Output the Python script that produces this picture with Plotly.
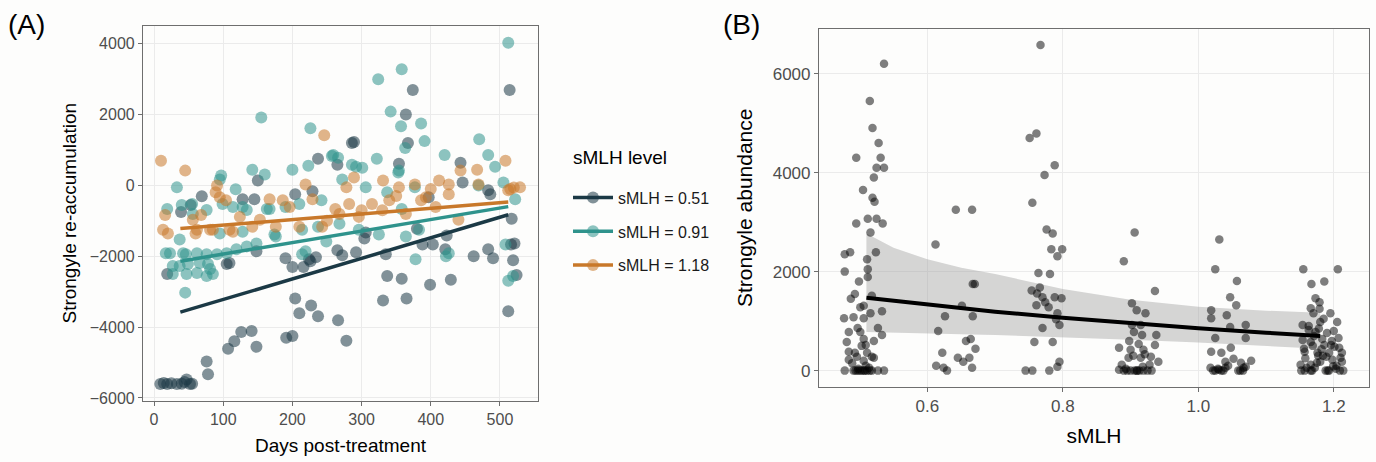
import plotly.graph_objects as go

# ---------------- Panel A data ----------------
days_051 = [9, 14, 19, 25, 33, 40, 44, 47, 52, 55, 76, 78, 107, 116, 126, 141, 148,
            191, 200, 204, 210, 227, 237, 266, 278,
            190, 200, 216, 226, 234, 265, 272, 292, 304, 306, 335, 337, 331, 358, 365, 399, 429,
            462, 423, 421, 483, 490, 519, 524, 512, 521, 516, 403, 388, 380,
            374, 514, 364, 367, 289, 237, 265, 354, 446, 483, 517, 397, 229,
            69, 150, 145, 128, 39, 53, 224, 19, 105, 109, 148, 286, 443, 486, 204]
reacc_051 = [-5611, -5580, -5611, -5590, -5611, -5600, -5550, -5480, -5611, -5600, -4972, -5333,
             -4611, -4400, -4139, -4111, -4556,
             -4305, -4250, -3195, -3611, -3390, -3695, -3806, -4389,
             -2056, -2306, -2306, -2139, -2028, -1833, -1972, -1889, -1500, -1333, -1944, -2556,
             -3250, -2639, -3195, -2806, -2667,
             -2000, -1417, -1806, -1806, -2056, -2111, -2528, -3556, -1639, -1667, -1667, -1667, -1222,
             2694, 2694, 2000, 1194, 1222, 750, 583, 611, 83, -139, -944, -333, -167,
             -306, 139, -389, -389, -750, -556, -2083, -2500, -2222, -2194, -1861, 1194, 639, -250, -250]

days_091 = [512, 358, 324, 342, 357, 386, 391, 363, 226, 155, 322, 470, 483, 420, 493, 353, 292,
            301, 200, 223, 259, 266, 33, 142, 160, 95, 19, 40, 55, 76, 114, 134, 163,
            37, 23, 42, 62, 76, 91, 105, 119, 134, 148, 27, 37, 49, 66, 78, 47, 62, 76, 27,
            45, 85, 81, 174, 214, 249, 325, 364, 378, 422, 508, 512, 519, 286, 354, 505, 522,
            272, 306, 337, 377, 469, 358, 296, 426, 268, 383, 97, 118, 128, 167, 190, 210,
            242, 56, 99, 95, 128, 176, 214, 237, 17, 46, 219, 257]
reacc_091 = [4028, 3278, 3000, 2083, 1667, 1750, 1250, 1056, 1611, 1917, 750, 1306, 861, 861, 528,
             361, 528, 500, 444, 556, 861, 778, -56, 444, 306, 167, -667, -556, -528, -694,
             -611, -694, -667,
             -1528, -1917, -1917, -1917, -1944, -1944, -1917, -1806, -1722, -1639, -2278, -2278,
             -2222, -2194, -2222, -2500, -2472, -2556, -2500,
             -3028, -2500, -2361, -1389, -1944, -1583, -1389, -1444, -2083, -2000, -1667, -2694,
             -2556, 583, 417, 83, -389,
             167, -56, -194, -56, 0, -667, -1250, -1917, -1083, -1250, 278, -111, -611, -667,
             -611, -528, -417, -806, -528, -1361, -1306, -1444, -1250, -1167, -1917, -1944,
             -1861, 833]

days_118 = [10, 45, 16, 91, 95, 13, 62, 85, 114, 89, 104, 68, 20, 60, 109, 124, 153, 167, 186,
            219, 229, 196, 176, 142, 210, 246, 262, 243, 81, 56, 289, 331, 354, 377, 412, 426,
            443, 467, 508, 529, 512, 282, 315, 340, 393, 426, 469, 268, 296, 364, 440, 407, 278,
            386, 515, 520, 300, 330, 250, 350, 400]
reacc_118 = [694, 417, -833, 0, -333, -1250, -1250, -1250, -1306, -194, -417, -833, -1361, -1361,
             -1250, -889, -972, -389, -417, 28, -389, -611, -1167, -1167, -1167, 1417, -667,
             -1167, -1250, -972, 222, 139, -56, 28, 139, 28, 417, 444, 694, -56, -139, -528,
             -528, -417, -333, -250, 28, -806, -889, -806, -972, -611, -56, -417, -100, -60,
             -700, -700, -1000, -300, -100]

# fitted lines (endpoints)
fit_days = [38, 512]
fit_051 = [-3580, -830]
fit_091 = [-2140, -600]
fit_118 = [-1220, -470]

legend_title = "sMLH level"
series_labels = ["sMLH = 0.51", "sMLH = 0.91", "sMLH = 1.18"]

# ---------------- Panel B data ----------------
smlh_b = [
    # cluster ~0.5
    0.536, 0.515, 0.519, 0.528, 0.495, 0.531, 0.525, 0.536, 0.521, 0.505, 0.519, 0.522, 0.495,
    0.512, 0.525, 0.534, 0.516, 0.478, 0.486, 0.524, 0.511, 0.512, 0.478, 0.512, 0.499, 0.493,
    0.487, 0.518, 0.506, 0.501, 0.533, 0.516, 0.477, 0.491, 0.506, 0.527, 0.497, 0.484, 0.501,
    0.533, 0.506, 0.521, 0.481, 0.503, 0.484, 0.493, 0.511, 0.518, 0.521, 0.484, 0.506, 0.478,
    0.491, 0.497, 0.500, 0.506, 0.511, 0.518, 0.527, 0.536, 0.509,
    0.494, 0.503, 0.508, 0.514, 0.489, 0.498, 0.515, 0.509, 0.496,
    # cluster ~0.64
    0.642, 0.666, 0.612, 0.616, 0.626, 0.667, 0.667, 0.670, 0.651, 0.613, 0.624, 0.629, 0.622,
    0.645, 0.653, 0.662, 0.666, 0.657, 0.664, 0.671,
    # cluster ~0.77
    0.767, 0.761, 0.751, 0.788, 0.773, 0.755, 0.776, 0.785, 0.799, 0.792, 0.781, 0.766, 0.754,
    0.770, 0.788, 0.798, 0.761, 0.779, 0.792, 0.795, 0.770, 0.758, 0.785, 0.795, 0.792, 0.780,
    0.755, 0.745, 0.764, 0.783, 0.774, 0.790, 0.762,
    # cluster ~0.91
    0.906, 0.890, 0.936, 0.902, 0.909, 0.922, 0.905, 0.917, 0.938, 0.883, 0.900, 0.919, 0.936,
    0.897, 0.915, 0.930, 0.941, 0.887, 0.883, 0.890, 0.900, 0.906, 0.913, 0.919, 0.931, 0.902,
    0.915, 0.895, 0.909, 0.925, 0.898, 0.912, 0.928, 0.904, 0.918, 0.893, 0.921, 0.910,
    # cluster ~1.04
    1.031, 1.025, 1.057, 1.047, 1.056, 1.019, 1.019, 1.042, 1.070, 1.047, 1.025, 1.070, 1.019,
    1.034, 1.048, 1.040, 1.063, 1.078, 1.018, 1.025, 1.034, 1.040, 1.059, 1.066, 1.070,
    1.022, 1.030, 1.037, 1.044, 1.062, 1.029, 1.067, 1.052,
    # cluster ~1.18
    1.155, 1.206, 1.167, 1.186, 1.173, 1.179, 1.166, 1.195, 1.180, 1.205, 1.154, 1.173, 1.190,
    1.200, 1.154, 1.166, 1.186, 1.208, 1.157, 1.176, 1.193, 1.212, 1.151, 1.166, 1.180, 1.198,
    1.212, 1.157, 1.166, 1.188, 1.193, 1.209, 1.177, 1.170, 1.163, 1.183, 1.201, 1.172,
    1.152, 1.160, 1.169, 1.178, 1.184, 1.191, 1.197, 1.204, 1.214, 1.158, 1.171, 1.182,
    1.189, 1.203, 1.163, 1.175, 1.196, 1.210, 1.168, 1.185, 1.199, 1.156, 1.179, 1.207]
abund_b = [
    6200, 5445, 4900, 4600, 4300, 4300, 4100, 4100, 3900, 3650, 3490, 3410, 2970,
    3070, 3070, 2970, 2790, 2350, 2390, 2390, 2250, 2050, 2000, 1890, 1800, 1550,
    1450, 1510, 1310, 1280, 1200, 1160, 1060, 1080, 1060, 860, 860, 780, 780,
    720, 640, 600, 580, 500, 380, 360, 360, 280, 260, 220, 200, 0,
    0, 0, 0, 0, 0, 0, 0, 0, 100,
    0, 0, 0, 60, 150, 40, 0, 520, 280,
    3250, 3250, 2550, 800, 1100, 1100, 1750, 1750, 1310, 100, 60, 0, 360,
    260, 180, 260, 60, 600, 640, 440,
    6580, 4790, 4700, 4150, 3950, 3390, 2850, 2770, 2450, 2310, 1950, 1680, 1620,
    1480, 1480, 1460, 1320, 1280, 1160, 920, 860, 580, 580, 180, 80, 0,
    0, 0, 1970, 2450, 1380, 1040, 1560,
    2790, 2210, 1610, 1360, 1220, 1160, 780, 720, 720, 460, 420, 420, 520,
    260, 260, 280, 180, 120, 20, 0, 0, 0, 0, 0, 0, 920,
    920, 0, 0, 0, 600, 540, 120, 300, 80, 40, 330, 0,
    2650, 2050, 1810, 1480, 1320, 1220, 1060, 1120, 920, 880, 660, 660, 380,
    360, 460, 180, 160, 200, 60, 0, 0, 60, 0, 0, 80,
    0, 20, 0, 100, 0, 40, 60, 240,
    2050, 2050, 1750, 1800, 1460, 1380, 1260, 1160, 980, 980, 920, 780, 760,
    800, 620, 580, 520, 460, 380, 360, 360, 360, 120, 120, 180, 220,
    180, 0, 0, 0, 0, 0, 300, 1160, 900, 640, 480, 60,
    0, 60, 500, 850, 300, 0, 600, 100, 0, 250, 700, 430,
    280, 40, 820, 160, 520, 260, 0, 1050, 90, 440, 1250, 660]

fit_b_x = [0.51, 0.55, 0.6, 0.65, 0.7, 0.8, 0.9, 1.0, 1.1, 1.18]
fit_b_y = [1470, 1410, 1330, 1260, 1190, 1066, 955, 855, 766, 700]
fit_b_lo = [780, 770, 750, 735, 720, 680, 625, 570, 500, 440]
fit_b_hi = [2770, 2480, 2250, 2080, 1950, 1650, 1430, 1290, 1210, 1170]

# ---------------- styling ----------------
cols = ["#1b3945", "#2f938c", "#c8782a"]
FONT = "Liberation Sans, Arial, sans-serif"
GRID = "#ebebeb"
BORDER = "#6e6e6e"
TICKC = "#4d4d4d"

fig = go.Figure()

for d, r, c in zip([days_051, days_091, days_118], [reacc_051, reacc_091, reacc_118], cols):
    fig.add_trace(go.Scatter(x=d, y=r, mode="markers", xaxis="x", yaxis="y",
                             marker=dict(size=12, color=c, opacity=0.55, line=dict(width=0)),
                             showlegend=False, hoverinfo="skip"))
for fy, c in zip([fit_051, fit_091, fit_118], cols):
    fig.add_trace(go.Scatter(x=fit_days, y=fy, mode="lines", xaxis="x", yaxis="y",
                             line=dict(color=c, width=3.5), showlegend=False))
# legend keys
for lab, c in zip(series_labels, cols):
    fig.add_trace(go.Scatter(x=[None], y=[None], mode="lines+markers", name=lab,
                             xaxis="x", yaxis="y", legendgroup=lab,
                             line=dict(color=c, width=3.5),
                             marker=dict(size=12, color=c, opacity=0.55)))

# panel B
fig.add_trace(go.Scatter(x=fit_b_x + fit_b_x[::-1], y=fit_b_hi + fit_b_lo[::-1],
                         fill="toself", fillcolor="rgba(153,153,153,0.4)",
                         line=dict(width=0), mode="lines", xaxis="x2", yaxis="y2",
                         showlegend=False, hoverinfo="skip"))
fig.add_trace(go.Scatter(x=smlh_b, y=abund_b, mode="markers", xaxis="x2", yaxis="y2",
                         marker=dict(size=8.5, color="black", opacity=0.5, line=dict(width=0)),
                         showlegend=False))
fig.add_trace(go.Scatter(x=fit_b_x, y=fit_b_y, mode="lines", xaxis="x2", yaxis="y2",
                         line=dict(color="black", width=4), showlegend=False))

axA = dict(showgrid=True, gridcolor=GRID, gridwidth=1.2, zeroline=False,
           showline=True, linecolor=BORDER, linewidth=1.2, mirror=True,
           ticks="outside", ticklen=4, tickcolor=BORDER,
           tickfont=dict(family=FONT, size=16, color=TICKC))

fig.update_layout(
    width=1376, height=462, margin=dict(l=0, r=0, t=0, b=0),
    paper_bgcolor="#fdfdfc", plot_bgcolor="#fdfdfc",
    font=dict(family=FONT, color="black"),
    xaxis=dict(axA, domain=[143/1376, 538/1376], range=[-16, 555],
               tickvals=[0, 100, 200, 300, 400, 500],
               title=dict(text="Days post-treatment", font=dict(size=19), standoff=11)),
    yaxis=dict(axA, domain=[1-406/462, 1-26/462], range=[-6080, 4510],
               tickvals=[-6000, -4000, -2000, 0, 2000, 4000],
               title=dict(text="Strongyle re-accumulation", font=dict(size=19), standoff=8)),
    xaxis2=dict(axA, domain=[819/1376, 1369/1376], range=[0.44, 1.252], anchor="y2",
                tickvals=[0.6, 0.8, 1.0, 1.2], ticktext=["0.6", "0.8", "1.0", "1.2"],
                tickfont=dict(family=FONT, size=17, color=TICKC),
                title=dict(text="sMLH", font=dict(size=21), standoff=12)),
    yaxis2=dict(axA, domain=[1-392/462, 1-29/462], range=[-329, 6909], anchor="x2",
                tickvals=[0, 2000, 4000, 6000],
                tickfont=dict(family=FONT, size=17, color=TICKC),
                title=dict(text="Strongyle abundance", font=dict(size=21), standoff=14)),
    legend=dict(x=568/1376, y=1-183/462, xanchor="left", yanchor="top",
                bgcolor="rgba(0,0,0,0)", tracegroupgap=10, itemwidth=40,
                font=dict(family=FONT, size=16, color="#1a1a1a")),
    annotations=[
        dict(text=legend_title, x=571/1376, y=1-160/462, xref="paper", yref="paper",
             xanchor="left", yanchor="middle", showarrow=False,
             font=dict(family=FONT, size=19, color="black")),
        dict(text="(A)", x=6/1376, y=1-25/462, xref="paper", yref="paper",
             xanchor="left", yanchor="middle", showarrow=False,
             font=dict(family=FONT, size=28, color="black")),
        dict(text="(B)", x=721/1376, y=1-25/462, xref="paper", yref="paper",
             xanchor="left", yanchor="middle", showarrow=False,
             font=dict(family=FONT, size=28, color="black")),
    ],
)

fig.write_html("out.html")
